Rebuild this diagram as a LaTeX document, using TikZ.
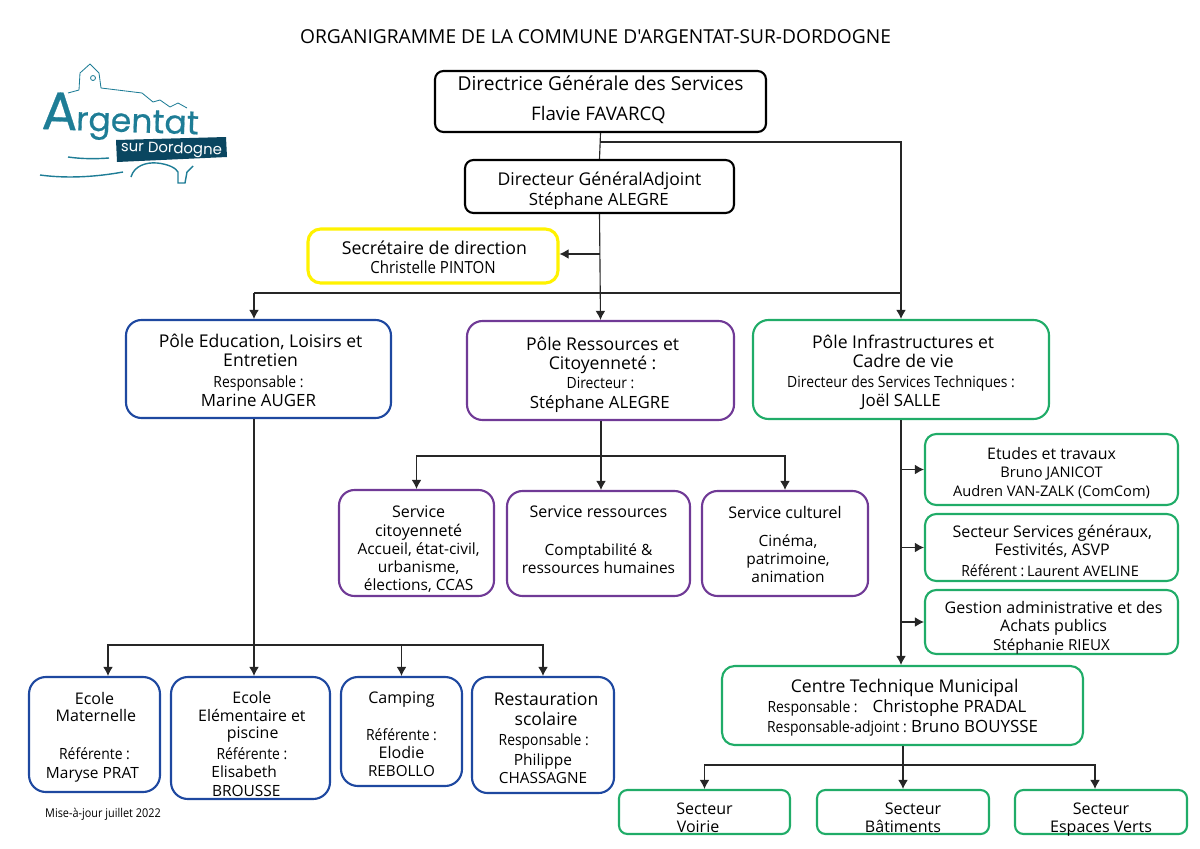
\documentclass[tikz,border=0pt]{standalone}
\usepackage{fontspec}
\setmainfont{Open Sans}
\newfontfamily\titlefont{Open Sans}
\newfontfamily\condfont[FakeStretch=0.9]{Open Sans}
\newfontfamily\logofont[FakeBold=0.5]{Poppins}
\newfontfamily\logosubfont{Poppins}
\usetikzlibrary{positioning,arrows.meta}

\definecolor{poleblue}{RGB}{30,72,160}
\definecolor{polepurple}{RGB}{112,58,150}
\definecolor{polegreen}{RGB}{32,172,104}
\definecolor{secyellow}{RGB}{255,242,0}
\definecolor{logoteal}{RGB}{30,125,150}
\definecolor{logodark}{RGB}{10,70,96}

\newcommand{\fsz}[1]{\fontsize{#1}{14}\selectfont}
\newcommand{\smalltxt}[1]{{\condfont\fontsize{11}{14}\selectfont #1}}

\tikzset{
	box/.style={draw, rounded corners=9pt, line width=1.5pt, inner sep=0pt, fill=white},
	blackbox/.style={box, draw=black, rounded corners=6pt},
	bluebox/.style={box, draw=poleblue, rounded corners=12pt},
	purplebox/.style={box, draw=polepurple, rounded corners=11pt},
	greenbox/.style={box, draw=polegreen},
	sidebox/.style={greenbox, rounded corners=8pt},
	sectorbox/.style={greenbox, rounded corners=6pt},
	link/.style={line width=0.8pt, black!85},
	arrowlink/.style={link, -{Latex[length=6.5pt,width=7pt]}}
}

% a box from its centre and its size in pixels, then how far its text is raised
\newcommand{\boxat}[7]{\node[#1, minimum width=#4*0.025cm, minimum height=#5*0.025cm] (#2) at (#3)
	{\raisebox{\dimexpr#6-5pt\relax}[0pt][0pt]{\begin{tabular}[c]{@{}c@{}}#7\end{tabular}}};}

\begin{document}
\begin{tikzpicture}[x=0.025cm, y=-0.025cm]
\useasboundingbox (0,0) rectangle (1200,848);

\node[font=\titlefont\fontsize{13.65}{16}\selectfont] (title) at (595.5,37) {ORGANIGRAMME DE LA COMMUNE D'ARGENTAT-SUR-DORDOGNE};

% logo
\draw[logoteal, line width=0.6pt, line join=round] (68,93) -- (79,90) -- (80,73) -- (90,64) -- (99,73) -- (101,88) -- (142,93) -- (153,102) -- (160,100) -- (170,107) -- (178,103) -- (187,108);
\draw[logoteal, line width=0.6pt] (93,78) circle (2.5);
\node[logoteal, rotate=-2, anchor=base west, inner sep=0pt, font=\logofont] (logoname) at (41,129) {\fontsize{38}{38}\selectfont A\kern-1pt\fontsize{23.5}{23.5}\selectfont rgentat};
\fill[logodark] (116,140) -- (226,137) -- (227,157) -- (117,162) -- cycle;
\node[white, rotate=-2, inner sep=0pt, font=\logosubfont\fontsize{10.6}{14}\selectfont] (logosub) at (171.5,149.5) {sur Dordogne};
\draw[logoteal, line width=1pt] (68,157) .. controls (82,159) and (96,159) .. (109,158);
\draw[logoteal, line width=1pt] (40,175) .. controls (62,178) and (90,178) .. (123,172);
\draw[logoteal, line width=1pt] (131,177) .. controls (134,166) and (146,162) .. (157,163) .. controls (168,164) and (176,168) .. (178,172) -- (178,183) -- (185,183) -- (187,172) -- (193,166);

% direction
\boxat{blackbox, font=\fontsize{13.65}{21.3}\selectfont}{dgs}{600.5,101.5}{331}{61}{2.5pt}{Directrice Générale des Services\\\fsz{13.3}Flavie FAVARCQ\kern3pt}
\boxat{blackbox, font=\fontsize{12.5}{14.2}\selectfont}{dga}{599.5,186.5}{269}{53}{-1.8pt}{Directeur GénéralAdjoint\\\fsz{12}Stéphane ALEGRE\kern1pt}
\boxat{box, draw=secyellow, line width=2.2pt, font=\fontsize{12.6}{13.5}\selectfont}{sec}{433,256}{250}{54}{-1pt}{\kern2pt Secrétaire de direction\\\smalltxt{\fontsize{11.9}{14}\selectfont Christelle PINTON}}

% poles
\boxat{bluebox, rounded corners=11pt, font=\fontsize{12.5}{13.5}\selectfont}{educ}{258.5,369}{265}{98}{-1pt}{\kern3pt Pôle Education, Loisirs et\\\kern3pt Entretien\\[1.2pt]\smalltxt{Responsable :}\\\fsz{12}Marine AUGER}
\boxat{purplebox, font=\fontsize{12.5}{13.8}\selectfont}{ress}{600.5,370.5}{267}{99}{-1.4pt}{\kern3pt Pôle Ressources et\\\kern3pt Citoyenneté :\\\smalltxt{Directeur :}\\\fsz{12}Stéphane ALEGRE\kern1pt}
\boxat{greenbox, rounded corners=11pt, font=\fontsize{12.5}{13.5}\selectfont}{infra}{901,369.5}{296}{99}{-1pt}{\kern3pt Pôle Infrastructures et\\\kern3pt Cadre de vie\\[1pt]\smalltxt{Directeur des Services Techniques :}\\\fsz{12}Joël SALLE}

% services
\boxat{purplebox, font=\fontsize{11}{13}\selectfont}{citoyen}{416.5,543}{155}{106}{-3.2pt}{\fsz{11.4}\kern3pt Service\\\fsz{11.4}\kern3pt citoyenneté\\\kern3pt Accueil, état-civil,\\\kern3pt urbanisme,\\\kern3pt élections, CCAS}
\boxat{purplebox, font=\fontsize{11}{12.8}\selectfont}{res}{598.5,543.5}{183}{105}{3.2pt}{\fsz{11.4}Service ressources\\[14.2pt]Comptabilité \&\\ressources humaines}
\boxat{purplebox, font=\fontsize{11}{12.8}\selectfont}{culturel}{785,543.5}{166}{105}{-0.4pt}{\fsz{11.4}Service culturel\\[7.2pt]\kern4.3pt Cinéma,\\\kern4.3pt patrimoine,\\\kern4.3pt animation}

% ecoles
\boxat{bluebox, font=\fontsize{11.4}{12.2}\selectfont}{mat}{94.5,734.5}{131}{115}{0pt}{Ecole\\\kern2pt Maternelle\\[14.8pt]\smalltxt{Référente :}\\[1.3pt]\fsz{11}\kern-2pt Maryse PRAT\kern1pt}
\boxat{bluebox, font=\fontsize{11.3}{12.4}\selectfont}{elem}{250.5,738}{159}{122}{-4pt}{\kern2pt Ecole\\\kern2pt Elémentaire et\\\kern3pt piscine\\[2.6pt]\smalltxt{\kern2pt Référente :}\\[0.4pt]\fsz{11}Elisabeth\kern9pt\\[1.1pt]\fsz{11}BROUSSE\kern6pt}
\boxat{bluebox, font=\fontsize{11.2}{12.8}\selectfont}{camp}{401.5,731.5}{121}{109}{-1.4pt}{\fsz{11.4}Camping\\[13.5pt]\smalltxt{Référente :}\\\fsz{11.4}Elodie\\\fsz{10.8}REBOLLO}
\boxat{bluebox, rounded corners=11pt, font=\fontsize{12.5}{14.2}\selectfont}{rest}{543,735}{142}{116}{-2.1pt}{\kern4.3pt Restauration\\\kern4.3pt scolaire\\\smalltxt{\kern1pt Responsable :}\\\fsz{11}Philippe\\[-1.4pt]\fsz{10.9}CHASSAGNE}

% secteurs a droite
\boxat{sidebox, font=\fontsize{10.4}{13.2}\selectfont}{etudes}{1051.5,469.5}{253}{71}{-0.7pt}{\fsz{11.3}Etudes et travaux\\Bruno JANICOT\\Audren VAN-ZALK (ComCom)}
\boxat{sidebox, font=\fontsize{11.4}{12.8}\selectfont}{generaux}{1051.5,547.5}{253}{67}{-2.1pt}{\kern1pt Secteur Services généraux,\\\kern1pt Festivités, ASVP\\[2.2pt]\smalltxt{Référent :}\hspace{2pt}\fsz{10.3}Laurent AVELINE\kern2pt}
\boxat{sidebox, font=\fontsize{11.4}{12.8}\selectfont}{gestion}{1051.5,622}{253}{64}{-2.5pt}{\kern3pt Gestion administrative et des\\\kern3pt Achats publics\\[0.7pt]\fsz{10.8}Stéphanie RIEUX}

\boxat{greenbox, font=\fontsize{12.5}{14.2}\selectfont}{ctm}{902.5,705.5}{361}{79}{0pt}{\kern3pt Centre Technique Municipal\\\smalltxt{Responsable :}\hspace{10.7pt}\fsz{12}Christophe PRADAL\kern8pt\\\smalltxt{Responsable-adjoint :}\hspace{3pt}\fsz{12}Bruno BOUYSSE}
\boxat{sectorbox, font=\fontsize{11.4}{12.8}\selectfont}{voirie}{704.5,812}{171}{44}{-3.5pt}{Secteur\\Voirie\kern9.2pt}
\boxat{sectorbox, font=\fontsize{11.4}{12.8}\selectfont}{batiment}{903,812}{172}{44}{-3.5pt}{\kern14.2pt Secteur\\Bâtiments}
\boxat{sectorbox, font=\fontsize{11.4}{12.8}\selectfont}{espaces}{1101,812}{172}{44}{-3.5pt}{Secteur\\Espaces Verts}

\node[font=\condfont\fontsize{8.6}{10}\selectfont] (maj) at (103,814) {Mise-à-jour juillet 2022};

% connecteurs
\coordinate (busdgs) at (600,142);
\coordinate (buspole) at (600,293);
\coordinate (buseduc) at (254,293);
\coordinate (bussec) at (600,254);
\coordinate (busress) at (601,456);
\coordinate (busecole) at (254,645);
\coordinate (busmat) at (108,645);
\coordinate (busctm) at (903,765);
\coordinate (busesp) at (1095,765);

\draw[link] (dgs.south) -- (dga.north);
\draw[arrowlink] (busdgs) -| (infra.north);
\draw[arrowlink] (dga.south) -- (ress.north);
\draw[arrowlink] (bussec) -- (sec.east |- bussec);
\draw[link] (buseduc) -- (infra.north |- buspole);
\draw[arrowlink] (buseduc) -- (educ.north -| buseduc);

\draw[link] (ress.south -| busress) -- (busress);
\draw[arrowlink] (busress) -- (res.north -| busress);
\foreach \n in {citoyen,culturel} {
	\draw[arrowlink] (busress) -| (\n.north);
}

\draw[arrowlink] (educ.south -| busecole) -- (elem.north -| busecole);
\draw[arrowlink] (busecole) -| (camp.north);
\draw[arrowlink] (busecole) -| (rest.north);
\draw[arrowlink] (busecole) -- (busmat) -- (mat.north -| busmat);

\foreach \n in {etudes,generaux,gestion} {
	\draw[arrowlink] (infra.south |- \n.west) -- (\n.west);
}
\draw[arrowlink] (infra.south) -- (ctm.north -| infra.south);

\draw[arrowlink] (ctm.south -| busctm) -- (batiment.north -| busctm);
\draw[arrowlink] (busctm) -| (voirie.north);
\draw[arrowlink] (busctm) -- (busesp) -- (espaces.north -| busesp);
\end{tikzpicture}
\end{document}
